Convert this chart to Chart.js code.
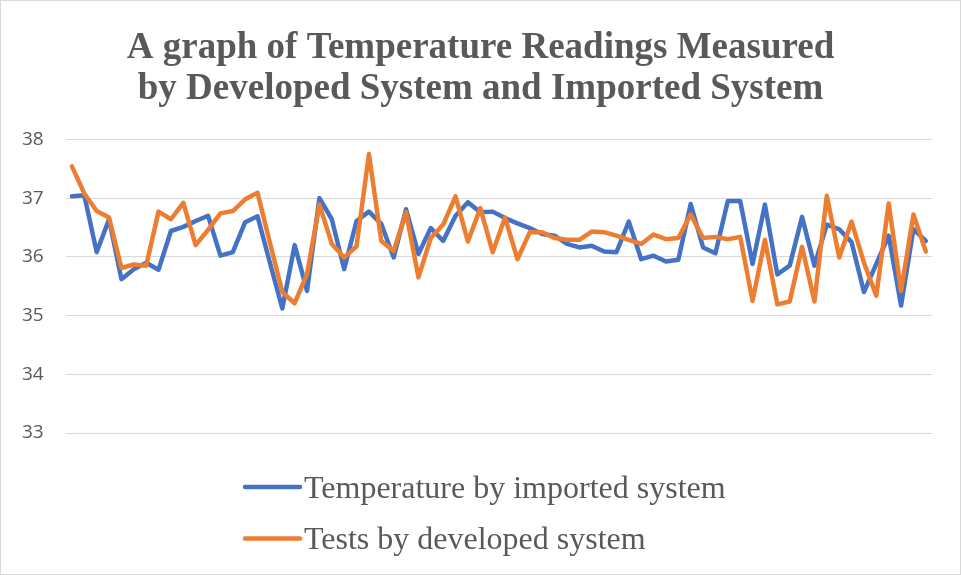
<!DOCTYPE html>
<html>
<head>
  <title>Temperature Readings</title>
  <script src="https://cdn.jsdelivr.net/npm/chart.js"></script>
  <style>
    body { margin: 0; background: #fff; }
    #wrap { width: 961px; height: 575px; position: relative; }
  </style>
</head>
<body>
  <div id="wrap"><canvas id="tempChart"></canvas></div>

  <script>
    // Dados
    const readings = Array.from({ length: 70 }, (_, i) => String(i + 1));
    const yTicks = [33, 34, 35, 36, 37, 38];

    const importedSystem = [
      37.03, 37.05, 36.08, 36.64, 35.62, 35.79, 35.90, 35.78, 36.44, 36.51,
      36.61, 36.70, 36.02, 36.08, 36.59, 36.69, 35.90, 35.12, 36.20, 35.42,
      37.00, 36.64, 35.79, 36.61, 36.77, 36.56, 35.99, 36.81, 36.05, 36.49,
      36.27, 36.70, 36.93, 36.76, 36.77, 36.66, 36.57, 36.49, 36.39, 36.36,
      36.22, 36.16, 36.19, 36.09, 36.08, 36.60, 35.96, 36.02, 35.92, 35.95,
      36.90, 36.16, 36.06, 36.95, 36.95, 35.88, 36.89, 35.70, 35.85, 36.68,
      35.85, 36.55, 36.47, 36.25, 35.40, 35.88, 36.36, 35.17, 36.47, 36.27
    ];

    const developedSystem = [
      37.54, 37.08, 36.78, 36.67, 35.81, 35.87, 35.85, 36.77, 36.64, 36.92,
      36.20, 36.46, 36.74, 36.78, 36.98, 37.09, 36.24, 35.40, 35.21, 35.71,
      36.89, 36.22, 35.99, 36.18, 37.75, 36.27, 36.10, 36.76, 35.65, 36.32,
      36.55, 37.03, 36.26, 36.83, 36.08, 36.67, 35.96, 36.42, 36.42, 36.32,
      36.29, 36.29, 36.43, 36.42, 36.36, 36.29, 36.22, 36.38, 36.30, 36.32,
      36.72, 36.32, 36.34, 36.30, 36.34, 35.25, 36.29, 35.19, 35.24, 36.17,
      35.24, 37.04, 35.99, 36.60, 35.90, 35.34, 36.91, 35.42, 36.72, 36.09
    ];

    const GRAY_TEXT = '#595959';
    const GRID = '#d9d9d9';

    // Borda externa + legenda no estilo Excel (itens empilhados, alinhados à esquerda)
    const excelFrame = {
      id: 'excelFrame',
      beforeDraw(chart) {
        const ctx = chart.ctx;
        ctx.save();
        ctx.strokeStyle = GRID;
        ctx.lineWidth = 1;
        ctx.strokeRect(0.5, 0.5, chart.width - 1, chart.height - 1);
        ctx.restore();
      },
      afterDraw(chart) {
        const ctx = chart.ctx;
        ctx.save();
        ctx.font = '32px "Liberation Serif", "Times New Roman", serif';
        ctx.textBaseline = 'alphabetic';
        chart.data.datasets.forEach((ds, i) => {
          const y = 487 + i * 51.5;
          ctx.strokeStyle = ds.borderColor;
          ctx.lineWidth = 4.5;
          ctx.lineCap = 'round';
          ctx.beginPath();
          ctx.moveTo(245, y);
          ctx.lineTo(300, y);
          ctx.stroke();
          ctx.fillStyle = GRAY_TEXT;
          ctx.fillText(ds.label, 304, y + 10.5);
        });
        ctx.restore();
      }
    };

    const ctx = document.getElementById('tempChart').getContext('2d');
    new Chart(ctx, {
      type: 'line',
      data: {
        labels: readings,
        datasets: [
          {
            label: 'Temperature by imported system',
            data: importedSystem,
            borderColor: '#4472C4',
            backgroundColor: '#4472C4',
            order: 1
          },
          {
            label: 'Tests by developed system',
            data: developedSystem,
            borderColor: '#ED7D31',
            backgroundColor: '#ED7D31',
            order: 0
          }
        ]
      },
      options: {
        responsive: true,
        maintainAspectRatio: false,
        animation: false,
        layout: { padding: { left: 0, right: 0, top: 0, bottom: 142 } },
        elements: {
          line: { borderWidth: 4.5, tension: 0, borderJoinStyle: 'round', borderCapStyle: 'round' },
          point: { radius: 0, hoverRadius: 0 }
        },
        plugins: {
          legend: { display: false },
          tooltip: { enabled: false },
          title: {
            display: true,
            text: ['A graph of Temperature Readings Measured', 'by Developed System and Imported System'],
            color: GRAY_TEXT,
            font: { family: '"Liberation Serif", "Times New Roman", serif', size: 37, weight: 'bold', lineHeight: 1.1 },
            padding: { top: 28, bottom: 30 }
          }
        },
        scales: {
          x: {
            type: 'category',
            offset: true,
            display: false
          },
          y: {
            min: yTicks[0],
            max: yTicks[yTicks.length - 1],
            afterBuildTicks: (axis) => { axis.ticks = yTicks.map(v => ({ value: v })); },
            grid: { color: GRID, lineWidth: 1, drawTicks: false },
            border: { display: false },
            ticks: {
              color: GRAY_TEXT,
              padding: 22,
              font: { family: '"Open Sans", sans-serif', size: 19 }
            }
          },
          // marge droite vide (comme dans Excel), sans décaler le titre
          yRight: {
            position: 'right',
            grid: { display: false, drawTicks: false },
            border: { display: false },
            ticks: { display: false },
            afterFit: (axis) => { axis.width = 29; }
          }
        }
      },
      plugins: [excelFrame]
    });
  </script>
</body>
</html>
